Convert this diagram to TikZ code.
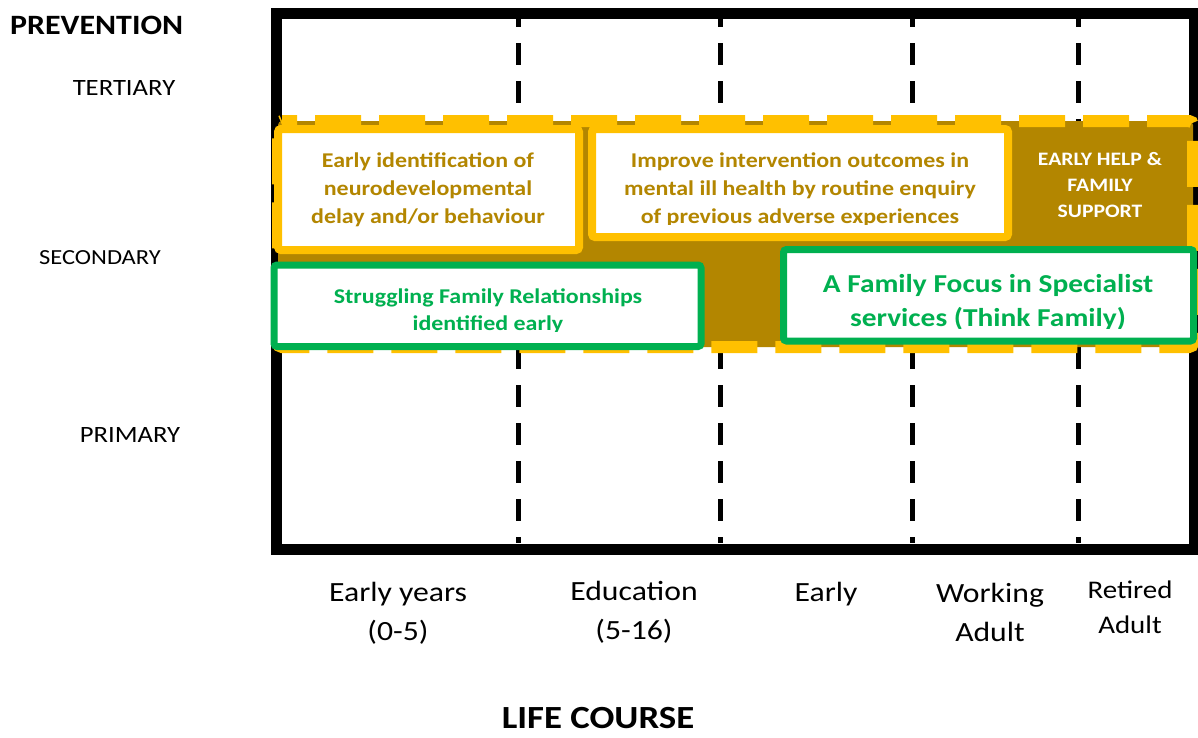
\documentclass[tikz,border=0pt]{standalone}
\usepackage{fontspec}
\setmainfont{Carlito}[FakeStretch=1.14]
\definecolor{gold}{RGB}{179,134,0}
\definecolor{ylw}{RGB}{255,192,0}
\definecolor{grn}{RGB}{0,176,80}
\begin{document}
\begin{tikzpicture}[x=1pt,y=-1pt,
  vdash/.style={line width=5pt, dash pattern=on 22pt off 16pt, dash phase=14pt},
  ybox/.style={draw=ylw, fill=white, line width=8pt, rounded corners=3pt},
  gbox/.style={draw=grn, fill=white, line width=7pt, rounded corners=3pt},
  gtext/.style={text=gold, align=center, inner sep=0pt, font=\bfseries},
  grtext/.style={text=grn, align=center, inner sep=0pt, font=\bfseries},
  lbl/.style={align=center, inner sep=0pt}]
\useasboundingbox (0,0) rectangle (1198,737);
% frame
\draw[line width=11pt] (276,13) rectangle (1194,549);
% life-course dividers
\foreach \x/\n in {518/a,720/b,912/c,1078/d}
  \draw[vdash] (\x,19) -- (\x,543);
% secondary band
\fill[gold, rounded corners=4pt] (278,121) -- (1193,121) -- (1193,347) -- (278,347) -- cycle;
\draw[ylw, line width=12pt, dash pattern=on 46pt off 18pt, dash phase=31pt, rounded corners=4pt]
  (278,121) -- (1193,121) -- (1193,347) -- (278,347) -- cycle;
% boxes
\draw[ybox] (278,129) rectangle (579,250);
\draw[ybox] (592,129) rectangle (1008,237);
\draw[gbox] (274,265) rectangle (701,346.5);
\draw[gbox] (783.5,249.5) rectangle (1193.5,341);
% box texts
\node[gtext, font=\bfseries\fontsize{21}{28}\selectfont] (ta) at (428,190)
  {Early identification of\\neurodevelopmental\\delay and/or behaviour};
\begin{scope}
\clip (592,129) rectangle (1008,224);
\node[gtext, font=\bfseries\fontsize{21}{28}\selectfont] (tb) at (800,190)
  {Improve intervention outcomes in\\mental ill health by routine enquiry\\of previous adverse experiences};
\end{scope}
\node[text=white, align=center, inner sep=0pt, font=\bfseries\fontsize{19}{26}\selectfont] (te) at (1100,185)
  {EARLY HELP \&\\FAMILY\\SUPPORT};
\begin{scope}
\clip (274,265) rectangle (701,331);
\node[grtext, font=\bfseries\fontsize{21}{27}\selectfont] (tc) at (488,311)
  {Struggling Family Relationships\\identified early};
\end{scope}
\begin{scope}
\clip (783.5,249.5) rectangle (1193.5,328);
\node[grtext, font=\bfseries\fontsize{25.8}{34}\selectfont] (td) at (988,302)
  {A Family Focus in Specialist\\services (Think Family)};
\end{scope}
% left labels
\node[anchor=west, inner sep=0pt, font=\bfseries\fontsize{28}{34}\selectfont] (prev) at (10,25) {PREVENTION};
\node[lbl, font=\fontsize{23.4}{28}\selectfont] (ter) at (124,88) {TERTIARY};
\node[lbl, font=\fontsize{21.5}{28}\selectfont] (sec) at (100,258) {SECONDARY};
\node[lbl, font=\fontsize{23.4}{28}\selectfont] (pri) at (130,435) {PRIMARY};
% bottom labels
\node[lbl, font=\fontsize{27.8}{39}\selectfont] (ey) at (398,613) {Early years\\(0-5)};
\node[lbl, font=\fontsize{27.8}{39}\selectfont] (ed) at (634,612) {Education\\(5-16)};
\node[lbl, font=\fontsize{27.8}{39}\selectfont] (ea) at (826,594) {Early};
\node[lbl, font=\fontsize{27.8}{39}\selectfont] (wa) at (990,612) {Working\\Adult};
\node[lbl, font=\fontsize{25.4}{35}\selectfont] (ra) at (1130,607) {Retired\\Adult};
\node[anchor=base, inner sep=0pt, font=\bfseries\fontsize{32.3}{38}\selectfont] (lc) at (598,728) {LIFE COURSE};
\end{tikzpicture}
\end{document}
